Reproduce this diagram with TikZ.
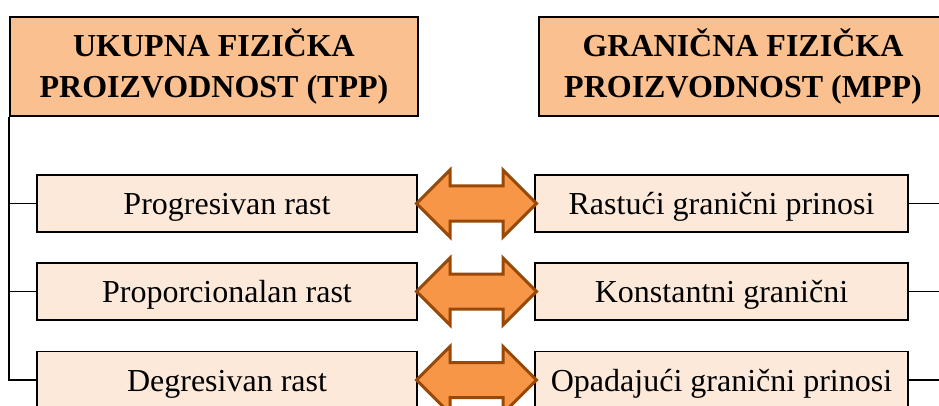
\documentclass[tikz,border=0pt]{standalone}
\usepackage{fontspec}
\setmainfont{Liberation Serif}
\usetikzlibrary{shapes.arrows}
\usepackage{xcolor}
\definecolor{headfill}{RGB}{250,192,144}
\definecolor{rowfill}{RGB}{253,233,217}
\definecolor{arrowfill}{RGB}{247,150,70}
\definecolor{arrowline}{RGB}{152,72,7}

\begin{document}
\begin{tikzpicture}[x=1pt,y=-1pt]
\useasboundingbox (0,0) rectangle (939,406);
\tikzstyle{headbox}=[draw=black,line width=2.2pt,fill=headfill,minimum width=408pt,minimum height=99pt,inner sep=0pt,align=center,font=\bfseries\fontsize{32}{41}\selectfont]
\node[headbox] (tpp) at (214,66.5) {UKUPNA FIZIČKA\\PROIZVODNOST (TPP)};
\node[headbox] (mpp) at (743,66.5) {GRANIČNA FIZIČKA\\PROIZVODNOST (MPP)};

\tikzstyle{rowbox}=[draw=black,line width=1.8pt,fill=rowfill,minimum height=57pt,inner sep=0pt,text height=22pt,text depth=0pt,font=\fontsize{32}{38}\selectfont]
\node[rowbox,minimum width=380pt] (tA) at (227,203.5) {Progresivan rast};
\node[rowbox,minimum width=380pt] (tB) at (227,291.5) {Proporcionalan rast};
\node[rowbox,minimum width=380pt] (tC) at (227,380) {Degresivan rast};
\node[rowbox,minimum width=373pt] (mA) at (721.5,203.5) {Rastući granični prinosi};
\node[rowbox,minimum width=373pt] (mB) at (721.5,291.5) {Konstantni granični};
\node[rowbox,minimum width=373pt] (mC) at (721.5,380) {Opadajući granični prinosi};

% veze
\coordinate (tl) at (tpp.south west);
\coordinate (mr) at (mpp.south east);
\draw[line width=1.6pt] (tl) |- (tC.west);
\draw[line width=1.6pt] (tA.west) -- (tA.west -| tl);
\draw[line width=1.6pt] (tB.west) -- (tB.west -| tl);
\draw[line width=1.6pt] (mr) |- (mC.east);
\draw[line width=1.6pt] (mA.east) -- (mA.east -| mr);
\draw[line width=1.6pt] (mB.east) -- (mB.east -| mr);

\tikzstyle{twoway}=[double arrow,draw=arrowline,fill=arrowfill,line width=3pt,minimum height=120pt,inner xsep=0pt,inner ysep=16pt,double arrow head extend=16pt]
\node[twoway] (dA) at (476.5,203.5) {};
\node[twoway] (dB) at (476.5,291.5) {};
\node[twoway] (dC) at (476.5,380) {};
\end{tikzpicture}
\end{document}
